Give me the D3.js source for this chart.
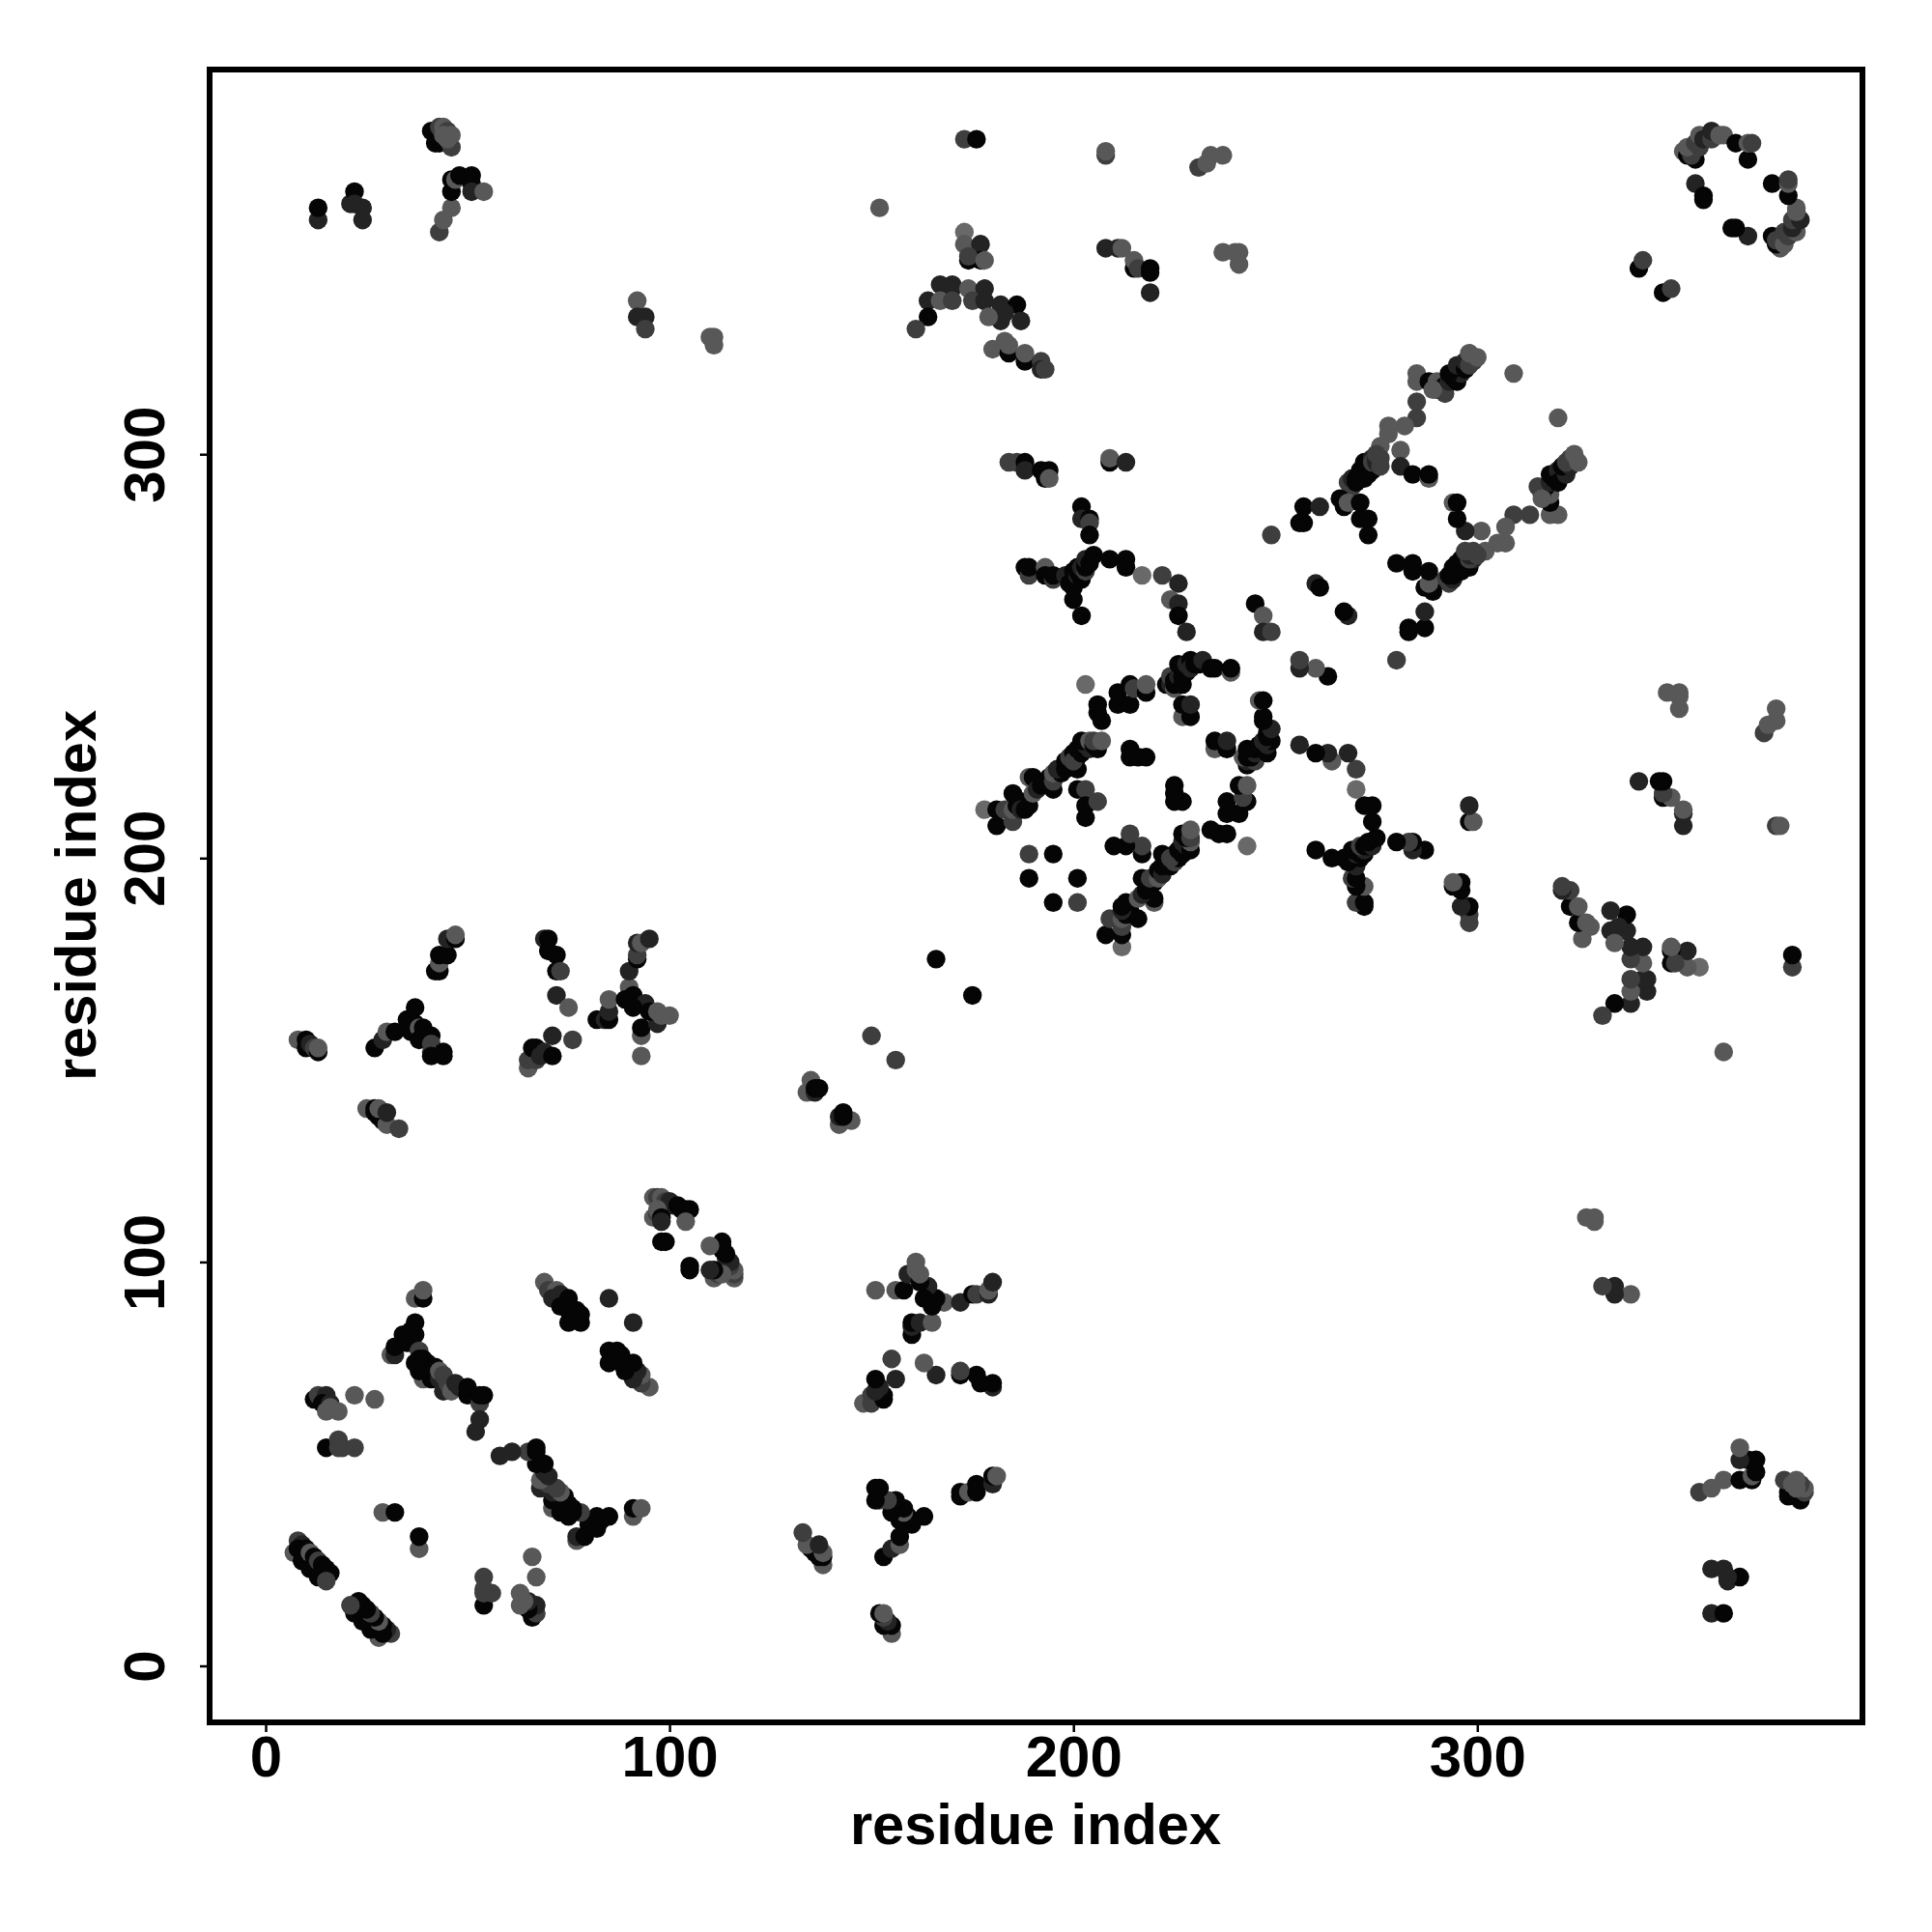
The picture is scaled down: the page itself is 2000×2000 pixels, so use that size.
<!DOCTYPE html>
<html><head><meta charset="utf-8">
<script src="https://d3js.org/d3.v7.min.js"></script>
<style>html,body{margin:0;background:#fff}svg{display:block}text{font-family:"Liberation Sans",Arial,sans-serif;font-weight:bold;fill:#000}</style>
</head><body><svg id="c" width="2000" height="2000"></svg>
<script>
// grey levels
const K=5,D=35,M=62,A=88,G=105;
const tickValues=[0,100,200,300];
const axisLabel="residue index";
// each row: [residue i, residue j, grey]; the contact map holds every contact at (i,j) and (j,i)
const hairpin=[[7,28,A],[8,31,M],[9,30,D],[8,29,K],[10,29,K],[9,26,K],[11,28,A],[12,27,K],[11,24,K],[13,26,M],[14,25,K],[13,22,K],[15,24,K],[16,23,K],[15,21,M]];
const near38=[[29,38,A],[32,38,K]];
const near54=[[15,54,K],[18,56,M],[18,54,M],[19,54,M],[22,54,M]];
const near66=[[12,66,K],[13,67,M],[15,67,D],[14,65,K],[16,65,D],[15,63,A],[16,64,A],[18,63,A],[22,67,A],[27,66,A]];
const band1=[[31,77,A],[32,77,D],[32,79,K],[34,82,K],[35,80,K],[36,80,K],[36,83,K],[37,82,K],[37,85,K],[37,91,A],[39,91,K],[39,93,A],[38,78,M],[39,71,A],[38,76,K],[38,73,K],[37,75,K],[39,76,K],[39,74,K],[40,75,K],[40,73,K],[41,73,K],[41,72,K],[41,71,K],[42,74,K],[42,72,K],[43,71,D],[43,73,A],[44,72,M],[44,68,D],[45,70,M],[46,70,M],[46,68,A],[47,70,D],[48,69,D],[50,67,K],[50,69,K],[53,65,M],[53,61,D],[52,58,D],[53,67,K],[54,67,K]];
const band2=[[69,95,A],[70,93,M],[72,93,A],[71,91,D],[73,92,D],[73,89,K],[75,91,K],[75,88,K],[77,88,K],[75,85,K],[78,85,K],[78,87,K],[85,91,D]];
const block96=[[96,116,A],[97,116,M],[98,116,A],[99,115,M],[100,115,D],[101,114,D],[102,114,K],[103,113,K],[104,113,K],[105,113,K],[96,111,A],[97,112,M],[97,113,A],[98,111,K],[98,110,D],[104,110,A],[98,105,K],[99,105,K]];
const row153=[[8,155,A],[10,155,K],[10,153,K],[11,154,D],[12,153,M],[13,152,K],[13,153,A]];
const peak163=[[27,153,K],[29,155,D],[30,157,A],[32,157,K],[35,160,K],[37,163,K],[37,159,K],[36,157,K],[38,158,A],[39,158,K],[38,155,K],[41,156,K],[41,154,M],[41,152,M],[41,151,K],[44,152,K],[44,151,K]];
const stem176=[[42,172,K],[43,172,K],[43,174,A],[43,176,K],[45,176,K],[45,180,D],[47,180,K],[47,181,A]];
const stem70=[[69,180,D],[70,180,K],[70,177,K],[72,176,K],[72,172,K],[73,172,M],[72,166,D],[75,163,A]];
const foot66=[[71,156,D],[76,155,M],[65,148,A],[65,150,M],[67,150,M],[66,153,K],[67,153,K],[69,152,D],[68,151,D],[71,151,K]];
const foot84=[[82,160,K],[84,160,D],[85,160,K],[85,162,D],[85,165,A]];
const cross92=[[90,168,A],[90,172,D],[92,175,K],[92,176,M],[92,179,D],[93,179,A],[95,180,D],[89,165,K],[91,166,K],[92,164,K],[94,164,D],[91,163,K],[93,151,A],[93,156,A],[93,158,K],[97,159,D],[95,162,K],[97,162,A],[98,161,A],[100,161,A]];
const row136=[[25,138,A],[27,138,K],[27,137,K],[29,135,K],[28,136,K],[28,138,A],[30,134,A],[30,137,D],[33,133,M]];
const top360=[[13,358,D],[13,361,K],[21,362,D],[22,365,K],[22,362,D],[24,358,D],[24,361,D]];
const top380=[[41,380,K],[43,377,K],[42,377,K],[43,381,M],[44,381,A],[45,380,M],[44,379,A],[46,376,M],[45,378,A],[46,379,A]];
const top367=[[43,355,M],[44,358,A],[46,361,A],[46,365,K],[46,368,K],[47,368,A],[48,369,K],[51,369,K],[51,367,K],[51,365,D],[54,365,A]];
const top334=[[92,338,A],[92,334,D],[94,334,D],[94,331,M],[110,329,A],[111,329,A],[111,327,A],[152,361,A]];
const diagLow=[[135,145,A],[134,142,A],[136,142,D],[136,143,K],[137,143,K],[150,156,M],[166,175,K]];
const top375=[[173,378,M],[176,378,K],[208,374,M],[208,375,A],[231,371,M],[233,372,A],[234,374,A],[237,374,A]];
const arm350=[[173,355,G],[173,352,A],[177,352,D],[174,348,K],[177,348,K],[174,349,M],[178,348,A]];
const arm338=[[167,342,D],[170,342,D],[170,341,D],[174,341,A],[178,341,D],[164,338,D],[167,338,A],[170,338,M],[175,338,M],[178,338,D],[164,334,K],[161,331,M],[182,337,D],[186,337,K],[182,333,D],[187,333,D],[183,335,D],[179,334,A]];
const arm325=[[180,326,A],[183,328,A],[184,325,K],[184,327,A],[188,323,K],[188,325,A],[192,323,M],[192,321,D],[193,321,M]];
const arm346=[[208,351,D],[211,351,D],[212,351,A],[215,346,K],[215,348,A],[216,346,M],[219,346,K],[219,345,K],[219,340,D],[237,350,A],[241,347,A],[240,350,A],[241,350,A]];
const row298=[[184,298,M],[186,298,M],[188,298,K],[188,296,D],[192,296,K],[193,294,K],[194,296,K],[194,294,A],[209,298,K],[209,299,A],[213,298,D]];
const stem284=[[202,287,K],[202,284,D],[204,284,K],[204,283,M],[204,280,K]];
const cross270=[[188,272,K],[189,270,M],[189,272,K],[193,272,A],[193,270,K],[195,269,M],[195,270,K],[198,270,D],[199,269,D],[199,268,K],[200,271,K],[200,268,K],[200,267,K],[201,269,K],[201,270,D],[202,269,K],[201,271,K],[201,272,K],[202,271,K],[202,272,D],[203,271,M],[203,272,K],[203,273,K],[203,274,D],[204,273,K],[205,275,K],[200,264,K],[202,260,K],[209,274,K],[213,274,K],[213,272,K]];
const curve265=[[217,270,G],[222,270,M],[226,268,D],[224,264,A],[226,263,D],[226,260,K],[228,256,D]];
const pair256=[[245,263,K],[247,260,A],[247,256,D],[249,256,M],[249,280,M]];
const strand320=[[285,320,A],[285,318,A],[288,318,K],[290,318,A],[290,316,D],[291,316,A],[292,317,K],[292,315,M],[289,316,A],[293,318,D],[294,319,K],[295,318,K],[296,320,D],[293,320,K],[295,322,D],[297,321,K],[297,323,D],[298,322,M],[299,323,M],[298,325,A],[300,324,A],[309,320,A],[285,313,M],[285,309,M],[282,307,A],[278,307,A],[278,305,A],[276,302,A]];
const strand296=[[281,301,A],[281,297,D],[284,295,K],[288,294,A],[288,295,K],[268,293,M],[269,292,M],[269,294,D],[270,293,K],[270,294,K],[271,295,K],[271,296,K],[272,294,K],[272,297,K],[272,298,K],[273,295,K],[273,298,K],[274,296,K],[274,299,D],[274,298,M],[275,298,D],[275,299,D],[276,297,M],[275,300,M],[276,299,M]];
const leg284=[[266,289,K],[267,287,K],[268,288,A],[271,288,K],[271,284,K],[273,284,K],[273,280,K],[257,287,K],[261,287,D],[257,283,K],[256,283,K],[260,268,D],[261,267,K]];
const ring375=[[340,346,K],[341,348,M],[351,375,A],[352,374,K],[354,373,K],[353,374,M],[352,376,A],[354,377,M],[355,376,M],[355,379,A],[356,378,D],[358,378,M],[358,380,D],[360,379,A],[361,379,A],[364,377,K],[367,373,K],[367,377,A],[368,377,M],[354,367,D],[356,364,K],[356,363,K]];
const strand212=[[178,212,G],[181,212,K],[181,208,K],[183,212,M],[185,209,M],[185,212,A],[185,216,K],[186,213,K],[187,214,K],[187,212,D],[188,212,K],[189,213,K],[190,216,A],[189,220,A],[190,220,K],[191,217,D],[192,218,K],[193,219,K],[194,220,K],[195,217,K],[195,219,M],[195,221,A],[197,221,K],[196,222,D],[198,222,K],[198,224,K],[199,223,K],[199,225,M],[200,226,K],[201,222,K],[201,225,K],[200,224,M],[201,227,K],[202,226,K],[203,227,K],[203,228,D],[204,227,D],[202,229,K],[204,229,A],[205,228,K],[206,228,M],[206,227,K],[205,229,M],[207,229,A]];
const arc240=[[203,243,G],[206,238,K],[206,236,K],[207,234,K],[211,241,K],[211,238,K],[214,243,K],[214,238,K],[215,242,M],[218,241,K],[218,243,A]];
const arc247=[[223,243,K],[224,243,D],[224,245,M],[225,242,A],[225,243,K],[225,244,K],[226,244,K],[226,245,D],[227,245,K],[227,243,K],[228,246,K],[226,248,K],[227,247,K],[228,248,D],[229,249,K],[229,247,D],[230,248,K],[231,248,K],[232,249,D],[234,247,K],[235,247,K],[239,246,A],[239,247,K],[227,235,A],[229,235,K],[227,238,K],[229,238,D]];
const inner225=[[214,227,K],[214,225,K],[216,225,K],[218,225,K],[201,217,K],[203,217,M],[203,213,K],[203,210,K],[206,214,M],[189,201,M],[195,201,K],[189,195,K]];

const contacts=[hairpin,near38,near54,near66,band1,band2,block96,row153,peak163,stem176,stem70,foot66,foot84,cross92,row136,top360,top380,top367,top334,diagLow,top375,arm350,arm338,arm325,arm346,row298,stem284,cross270,curve265,pair256,strand320,strand296,leg284,ring375,strand212,arc240,arc247,inner225].flat();
const points=contacts.flatMap(([i,j,g])=>[{x:i,y:j,g},{x:j,y:i,g}]);

const svg=d3.select("#c");
const x=d3.scaleLinear().domain([0,300]).range([275,1529.3]);
const y=d3.scaleLinear().domain([0,300]).range([1724.5,470.2]);
const frame={l:217,r:1928,t:72,b:1783};

svg.append("g").selectAll("circle").data(points).join("circle")
  .attr("cx",d=>x(d.x)).attr("cy",d=>y(d.y)).attr("r",9.7)
  .attr("fill",d=>d3.rgb(d.g,d.g,d.g));

svg.append("rect").attr("x",frame.l).attr("y",frame.t).attr("width",frame.r-frame.l).attr("height",frame.b-frame.t)
  .attr("fill","none").attr("stroke","#000").attr("stroke-width",6);

const gx=svg.append("g").attr("transform",`translate(0,${frame.b})`)
  .call(d3.axisBottom(x).tickValues(tickValues).tickSize(10).tickPadding(12));
gx.select(".domain").remove();
gx.selectAll("line").attr("stroke","#000").attr("stroke-width",2.5);
gx.selectAll("text").attr("font-size",60).attr("fill","#000").attr("dy",null).attr("y",56);

const gy=svg.append("g").attr("transform",`translate(${frame.l},0)`)
  .call(d3.axisLeft(y).tickValues(tickValues).tickSize(10).tickPadding(12));
gy.select(".domain").remove();
gy.selectAll("line").attr("stroke","#000").attr("stroke-width",2.5);
gy.selectAll("text").attr("font-size",60).attr("fill","#000").attr("dy",null)
  .attr("text-anchor","middle").attr("transform","translate(-47,0) rotate(-90)").attr("y",0).attr("x",0);

svg.append("text").attr("x",1072).attr("y",1909).attr("text-anchor","middle").attr("font-size",59.6).text(axisLabel);
svg.append("text").attr("text-anchor","middle").attr("font-size",59.6)
  .attr("transform","translate(99,927) rotate(-90)").text(axisLabel);
</script></body></html>
